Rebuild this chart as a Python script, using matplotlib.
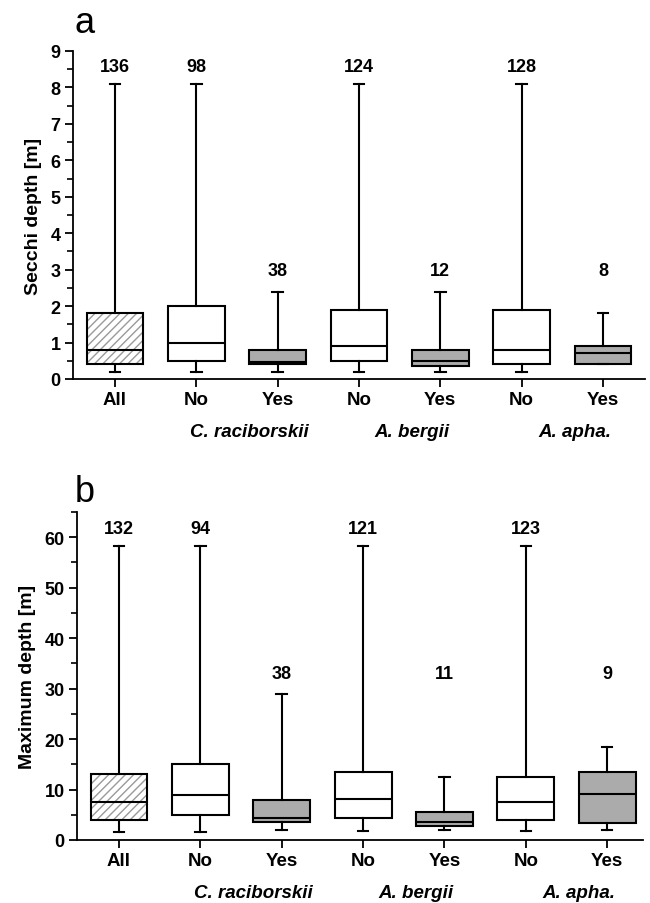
import matplotlib
matplotlib.use("Agg")
import matplotlib.pyplot as plt
from matplotlib.patches import PathPatch
from matplotlib.ticker import MultipleLocator

plt.rcParams['font.family'] = ['Liberation Sans', 'DejaVu Sans']

# ---------------- data ----------------
tick_labels = ["All", "No", "Yes", "No", "Yes", "No", "Yes"]
groups = ["C. raciborskii", "A. bergii", "A. apha."]
box_kind = ["all", "no", "yes", "no", "yes", "no", "yes"]

# Panel a: Secchi depth [m]
secchi_whislo = [0.2, 0.2, 0.2, 0.2, 0.2, 0.2, 0.4]
secchi_q1 = [0.4, 0.5, 0.4, 0.5, 0.35, 0.4, 0.4]
secchi_med = [0.8, 1.0, 0.47, 0.9, 0.5, 0.8, 0.7]
secchi_q3 = [1.8, 2.0, 0.8, 1.9, 0.8, 1.9, 0.9]
secchi_whishi = [8.1, 8.1, 2.4, 8.1, 2.4, 8.1, 1.8]
secchi_n = [136, 98, 38, 124, 12, 128, 8]

# Panel b: Maximum depth [m]
maxd_whislo = [1.6, 1.6, 2.0, 1.7, 2.0, 1.7, 2.0]
maxd_q1 = [4.0, 5.0, 3.5, 4.3, 2.7, 4.0, 3.4]
maxd_med = [7.6, 9.0, 4.4, 8.1, 3.6, 7.6, 9.1]
maxd_q3 = [13.0, 15.1, 8.0, 13.4, 5.5, 12.4, 13.4]
maxd_whishi = [58.3, 58.3, 29.0, 58.3, 12.4, 58.3, 18.4]
maxd_n = [132, 94, 38, 121, 11, 123, 9]

FIG_W, FIG_H = 650, 904
fig = plt.figure(figsize=(FIG_W / 100, FIG_H / 100), dpi=100)

def px_axes(left, right, top, bottom):
    return fig.add_axes([left / FIG_W, 1 - bottom / FIG_H,
                         (right - left) / FIG_W, (bottom - top) / FIG_H])

ax_a = px_axes(73, 645, 52, 380)
ax_b = px_axes(77, 643, 513, 841)

def draw_panel(ax, whislo, q1, med, q3, whishi, ns, ylim, major, minor,
               ylabel, n_levels, n_thresh, xlim):
    positions = list(range(1, len(tick_labels) + 1))
    stats = []
    for i in range(len(tick_labels)):
        stats.append(dict(whislo=whislo[i], q1=q1[i], med=med[i],
                          q3=q3[i], whishi=whishi[i], fliers=[]))
    lw = 1.5
    bp = ax.bxp(stats, positions=positions, widths=0.7, patch_artist=True,
                showfliers=False, capwidths=0.13,
                boxprops=dict(linewidth=lw, edgecolor='black'),
                medianprops=dict(linewidth=lw, color='black'),
                whiskerprops=dict(linewidth=lw, color='black'),
                capprops=dict(linewidth=lw, color='black'))
    for box, kind in zip(bp['boxes'], box_kind):
        if kind == 'yes':
            box.set_facecolor('#ababab')
        elif kind == 'no':
            box.set_facecolor('white')
        else:
            box.set_facecolor('none')
            hp = PathPatch(box.get_path(), transform=box.get_transform(),
                           facecolor='white', edgecolor='#9a9a9a',
                           hatch='////', linewidth=0, zorder=box.get_zorder() - 0.1)
            ax.add_patch(hp)
    for i, n in enumerate(ns):
        y = n_levels[0] if whishi[i] > n_thresh else n_levels[1]
        ax.text(positions[i], y, str(n), ha='center', va='center',
                fontsize=13, fontweight='bold')
    ax.set_xlim(*xlim)
    ax.set_ylim(*ylim)
    ax.set_xticks(positions)
    ax.set_xticklabels(tick_labels, fontsize=13.5, fontweight='bold')
    ax.yaxis.set_major_locator(MultipleLocator(major))
    ax.yaxis.set_minor_locator(MultipleLocator(minor))
    for lab in ax.get_yticklabels():
        lab.set_fontsize(13)
        lab.set_fontweight('bold')
    ax.tick_params(axis='both', which='major', direction='out', length=6,
                   width=1.3, pad=3)
    ax.tick_params(axis='y', which='minor', direction='out', length=4, width=1.2)
    ax.tick_params(axis='x', which='minor', bottom=False)
    for s in ['top', 'right']:
        ax.spines[s].set_visible(False)
    for s in ['left', 'bottom']:
        ax.spines[s].set_linewidth(1.3)
    ax.set_ylabel(ylabel, fontsize=14, fontweight='bold', labelpad=6)
    for g, name in enumerate(groups):
        xc = (positions[1 + 2 * g] + positions[2 + 2 * g]) / 2
        ax.annotate(name, xy=(xc, 0), xycoords=('data', 'axes fraction'),
                    xytext=(9, -38), textcoords='offset points',
                    ha='center', va='center', fontsize=13.5,
                    fontweight='bold', fontstyle='italic')

draw_panel(ax_a, secchi_whislo, secchi_q1, secchi_med, secchi_q3,
           secchi_whishi, secchi_n, (0, 9), 1, 0.5, "Secchi depth [m]",
           (8.57, 2.97), 5, (0.484, 7.516))
draw_panel(ax_b, maxd_whislo, maxd_q1, maxd_med, maxd_q3,
           maxd_whishi, maxd_n, (0, 65), 10, 5, "Maximum depth [m]",
           (61.8, 33.0), 40, (0.484, 7.44))

fig.text(75 / FIG_W, 1 - 33 / FIG_H, "a", fontsize=26, va='baseline', ha='left')
fig.text(75 / FIG_W, 1 - 502 / FIG_H, "b", fontsize=26, va='baseline', ha='left')

fig.savefig("out.png", dpi=100)
